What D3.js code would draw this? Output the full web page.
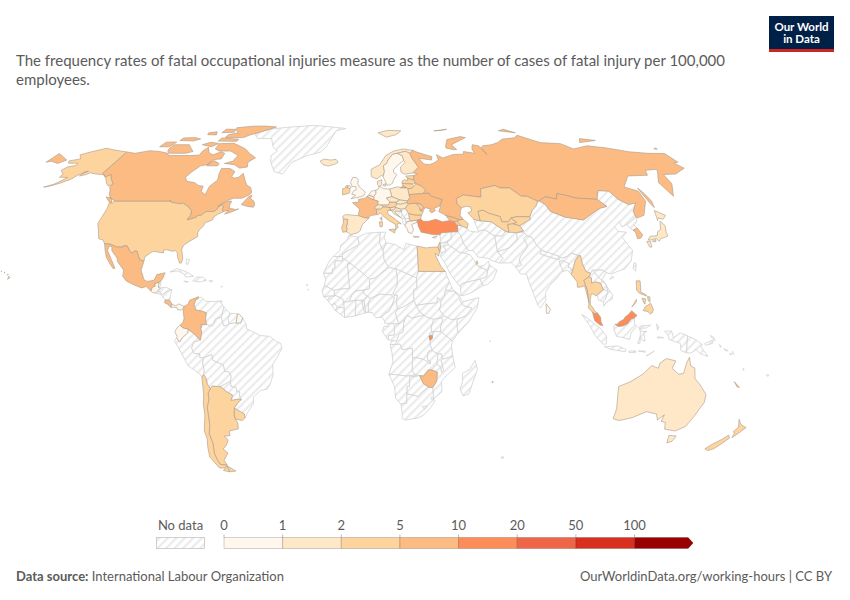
<!DOCTYPE html>
<html>
<head>
<meta charset="utf-8">
<script src="https://cdnjs.cloudflare.com/ajax/libs/d3/7.8.5/d3.min.js"></script>
<style>
  html, body { margin: 0; padding: 0; background: #fff; }
  svg { display: block; font-family: Lato, "Open Sans", sans-serif; }
</style>
</head>
<body>
<svg id="chart" width="850" height="600"></svg>
<script>
const titleLines = [
  'The frequency rates of fatal occupational injuries measure as the number of cases of fatal injury per 100,000',
  'employees.',
];
const sourceLabel = 'Data source:';
const sourceName = 'International Labour Organization';
const footerRight = 'OurWorldinData.org/working-hours | CC BY';

const legendTicks = [0, 1, 2, 5, 10, 20, 50, 100];
const binColors = ['#fff7ec', '#fee8c8', '#fdd49e', '#fdbb84', '#fc8d59', '#ef6548', '#d7301f', '#990000'];

// countries with a reported rate (read from the map colours, so estimates)
const countryNames = ['Canada', 'USA', 'Mexico', 'Guatemala', 'Costa Rica', 'Panama', 'Colombia', 'Ecuador',
  'French Guiana', 'Argentina', 'Chile', 'Uruguay', 'Iceland', 'Norway', 'Sweden', 'Finland', 'Denmark',
  'UK', 'Ireland', 'Germany', 'Netherlands', 'Belgium', 'France', 'Spain', 'Portugal', 'Italy', 'Switzerland',
  'Austria', 'Poland', 'Czechia', 'Slovakia', 'Hungary', 'Slovenia', 'Croatia', 'Estonia', 'Latvia', 'Lithuania',
  'Belarus', 'Ukraine', 'Moldova', 'Romania', 'Bulgaria', 'Greece', 'Russia', 'Turkey', 'Cyprus', 'Georgia',
  'Armenia', 'Azerbaijan', 'Kazakhstan', 'Uzbekistan', 'Kyrgyzstan', 'Tajikistan', 'Mongolia', 'Egypt', 'Israel',
  'Qatar', 'South Korea', 'Japan', 'Myanmar', 'Thailand', 'Malaysia', 'Philippines', 'Sri Lanka', 'Burundi',
  'Zimbabwe', 'Mauritius', 'Australia', 'New Zealand', 'New Caledonia'];
const countryRates = [5.6, 3.5, 8, 0.8, 8, 0.9, 7, 0.8,
  0.7, 3.6, 3.2, 3.5, 1.5, 1.5, 0.7, 1.5, 1.5,
  0.5, 2.5, 0.9, 0.5, 1.5, 6, 1.8, 3, 2.8, 1.3,
  2.2, 1.8, 1.5, 1.5, 1.7, 1.7, 1.8, 2.3, 3.5, 3.5,
  3, 6, 2, 3.8, 3.5, 0.9, 6.5, 12, 0.9, 6,
  3.6, 3.5, 4, 2.6, 4, 3, 6, 3.3, 3,
  4, 5.5, 1.6, 3.6, 4, 13, 4, 0.9, 12,
  6, 2, 1.5, 3, 7];

// simplified country outlines, "lon,lat" rings
const outlines = {
  'Canada': [
    '-141,69.6 -141,60.3 -139.5,59.7 -137.5,58.9 -135.5,59.7 -133.5,58 -130,55.9 -130.5,54.7 -129,53.5 -127.5,51.5 -125,50 -123,49.3 -122.8,49 -110,49 -95.2,49 -95.2,49.4 -94.6,48.7 -92,48.3 -89.6,48 -88.4,48.3 -84.8,46.9 -84.5,46.5 -83.5,46 -82.5,45.3 -82.1,43.6 -82.5,42.6 -83.1,42.1 -82.7,41.7 -79,42.8 -79,43.3 -76.8,43.6 -76.3,44.2 -75,45 -71.5,45 -70.8,45.4 -70,46.7 -69.2,47.45 -68.3,47.35 -67.8,47.1 -67.8,45.7 -67,44.9 -66,45.2 -64.5,45.5 -66,44 -63.5,44.6 -60,46 -61.5,45.7 -62.5,46 -64.5,46.2 -65,47.5 -64.5,49 -66.3,49.1 -69,48 -70.5,47 -69.5,48 -67,49.3 -64,50.2 -60,50.2 -57,51.5 -56,52.5 -57.5,54.5 -60,55.5 -62,57.5 -64.5,60.3 -66,58.7 -68.3,58.3 -70,59 -69.5,61 -73,62.3 -78,62.4 -77.5,60 -76.5,57.5 -79,55 -79.2,52 -79,51.5 -82,52.9 -82.3,55 -85,55.3 -88,56.5 -92.5,57 -94.5,58.7 -93,61 -90.5,63.5 -87,64 -85.8,66.2 -81.5,66.5 -81.7,69 -84.5,69.7 -88,68.3 -90,68.8 -92,69.8 -94.5,71.8 -96,70 -96,68.2 -101,68 -108,68 -114,68 -115.5,69 -121.5,69.8 -128,70.2 -135,69',
    '-90,76.5 -78,76.5 -75,78 -72,78.8 -65,81.2 -62,82.5 -70,83.1 -80,83 -90,82 -88,80.5 -85,79 -90,78',
    '-64,63 -68,62.5 -72,64 -78,64.5 -74,65.5 -73,68 -79,70 -86,70 -89.5,71 -90,73.5 -81,73.7 -77,72.7 -71,71 -67,69 -62,67 -65,65',
    '-105,69 -115,69 -117,70 -118,71.5 -117,73 -114,73 -108,73 -104,71 -101.5,69.8',
    '-119.5,72 -125,72 -124.5,74.2 -118,74.3 -118,73.3',
    '-117,75 -108,74.8 -105,75.8 -110,76.5 -117,76.3',
    '-92,74.7 -80,74.6 -80,75.7 -92,76.3',
    '-100,73 -93,72 -90.5,73.6 -96,74.2',
    '-87,63.5 -81,63.5 -81,64.5 -85,65.8 -87,64.5',
    '-96,79 -88,79.3 -89,81 -96,81',
    '-104,78 -98,77.9 -100,79.5 -105,79',
    '-59.3,47.7 -55.5,46.9 -53,46.7 -52.7,47.5 -53.5,49 -55.5,50 -55.6,51.5 -57,50.7',
    '-128.3,50.7 -125.5,50.4 -123.4,48.5 -125,48.7'],
  'USA': [
    '-122.8,49 -110,49 -95.2,49 -95.2,49.4 -94.6,48.7 -92,48.3 -89.6,48 -88.4,48.3 -84.8,46.9 -84.5,46.5 -83.5,46 -82.5,45.3 -82.1,43.6 -82.5,42.6 -83.1,42.1 -82.7,41.7 -79,42.8 -79,43.3 -76.8,43.6 -76.3,44.2 -75,45 -71.5,45 -70.8,45.4 -70,46.7 -69.2,47.45 -68.3,47.35 -67.8,47.1 -67.8,45.7 -67,44.9 -69,44 -70.7,43 -70.8,41.8 -72,41.3 -74,40.6 -74.2,39.5 -75.5,38 -76,37 -75.6,35.3 -77,34.5 -79,33.4 -81,32 -81.4,30.5 -80.1,26.8 -80.4,25.2 -81.2,25.2 -82.7,27.7 -83,29.1 -84.2,30 -85.5,29.7 -88,30.3 -89.5,30.2 -89.3,29.1 -90.5,29.2 -93.8,29.7 -95,29.2 -97.3,27.5 -97.2,25.95 -99.2,26.4 -100.3,28 -101.4,29.8 -102.7,29.7 -103.2,29 -104.5,29.6 -106.5,31.75 -108.2,31.78 -108.2,31.33 -111,31.33 -114.8,32.5 -117.1,32.53 -118.4,34 -120.6,34.5 -121.9,36.6 -122.5,37.8 -124.3,40.3 -124.1,43 -124,46.2 -124.7,48.4 -123,48.2',
    '-141,69.6 -141,60.3 -139.5,59.7 -137.5,58.9 -135.5,59.7 -133.5,58 -130,55.9 -131.5,55 -133.5,56 -136,57.8 -139.5,59.7 -144,60 -148,60.5 -149.5,59.7 -152,59.2 -151.8,60.8 -150,61.2 -153.5,59.4 -154.5,58 -158,56.3 -162,55 -164.5,54.6 -160.5,56 -157.5,58.6 -162,58.7 -162,60 -165.5,61.5 -164.5,63 -161,63.6 -161,64.6 -166.5,64.6 -168,65.6 -163,66.5 -166.5,68.3 -163,69.5 -156.5,71.3 -150,70.5',
    '-155.9,19 -155,19.7 -155.7,20.2', '-156.6,20.8 -156,20.8 -156.4,20.6', '-158.2,21.5 -157.7,21.4 -158,21.7', '-159.7,22 -159.3,22.1 -159.5,21.9'],
  'Mexico': ['-117.1,32.53 -114.8,32.5 -111,31.33 -108.2,31.33 -108.2,31.78 -106.5,31.75 -104.5,29.6 -103.2,29 -102.7,29.7 -101.4,29.8 -100.3,28 -99.2,26.4 -97.2,25.95 -97.8,22.5 -95.9,18.9 -94.5,18.2 -91.5,18.6 -90.5,20.8 -87,21.5 -87.6,19.5 -88.3,18.5 -89.15,17.9 -91,17.25 -90.5,16.4 -91.7,16 -92.2,14.5 -94.5,16.2 -96.5,15.7 -99.5,16.7 -103.5,18.3 -105.5,20.2 -105.5,22.5 -109,25.8 -109.5,27 -112.8,30 -113.2,31.3 -114.7,31.7 -114.7,30 -111.5,26 -109.5,23.2 -110.3,23.1 -112.2,25 -114.5,27.5 -115.8,30'],
  'Guatemala': ['-91,17.25 -89.15,17.9 -89.15,15.9 -88.2,15.7 -89.2,14.6 -90.1,13.75 -91.5,14 -92.2,14.5 -91.7,16 -90.5,16.4'],
  'Belize': ['-88.3,18.5 -89.15,17.9 -89.15,15.9 -88.3,16.5'],
  'Honduras': ['-89.2,14.6 -88.2,15.7 -86,16 -83.2,15 -84.7,14.7 -86,13.9 -87.3,13 -87.7,13.8'],
  'Nicaragua': ['-83.2,15 -83.7,11 -85.7,11.1 -87.6,13 -87.3,13 -86,13.9 -84.7,14.7'],
  'El Salvador': ['-90.1,13.75 -89.2,14.6 -87.7,13.8 -87.8,13.2'],
  'Costa Rica': ['-85.7,11.1 -83.7,11 -82.6,9.5 -83,8.3 -84.7,9.6 -85.8,10'],
  'Panama': ['-82.6,9.5 -81,8.9 -79.5,9.6 -77.3,8.6 -77.9,7.3 -80,7.3 -80.4,8.3 -83,8.3'],
  'Cuba': ['-84.9,21.8 -82,23.1 -77,21.6 -74.2,20.2 -77.7,19.8 -78.5,21 -81.5,22.2'],
  'Hispaniola': ['-74.4,18.4 -72.8,19.9 -70,19.8 -68.4,18.6 -71,18 -72,18.1'],
  'Jamaica': ['-78.3,18.3 -76.3,18.1 -77,17.8'],
  'Puerto Rico': ['-67.2,18.5 -65.6,18.4 -66.2,17.9'],
  'Bahamas': ['-78.5,26.7 -77,26.5 -77.6,24.5 -78.2,25'],
  'Trinidad': ['-61.9,10.7 -60.9,10.8 -61,10.1'],
  'Guadeloupe': ['-61.7,16.3 -61.2,16.3 -61.5,15.9'],
  'Colombia': ['-77.3,8.6 -75.6,9.5 -75,11 -72.2,12 -71.3,12.4 -71.3,11.7 -72.5,11 -73,9.2 -72,7.2 -70,7 -67.5,6.2 -67.8,3.8 -67.3,1.7 -69.8,1.7 -69.4,0.7 -70,0.6 -69.4,-1 -70,-4.2 -70.7,-3.8 -72,-2.4 -73.5,-1.3 -75.2,-0.1 -77.5,0.4 -78.8,1.4 -77.5,2.6 -77.1,4 -77.5,6.5'],
  'Ecuador': ['-75.2,-0.1 -77.5,0.4 -78.8,1.4 -80,0.5 -81,-1 -80,-3 -80.3,-3.4 -79,-5 -78,-3.5 -75.5,-1.5'],
  'Venezuela': ['-71.3,11.7 -72.5,11 -73,9.2 -72,7.2 -70,7 -67.5,6.2 -67.8,3.8 -67.3,1.7 -65,1 -64,2 -63.4,3.9 -61,4.5 -60.7,5.2 -60,8.5 -62,10.7 -64,10.5 -68,10.6 -70,12.2'],
  'Guyana': ['-60.7,5.2 -61,4.5 -60,1.3 -58.8,1.2 -57.5,2 -58,4 -57.2,6 -58.5,7 -60,8.5'],
  'Suriname': ['-57.2,6 -58,4 -57.5,2 -54.5,2.3 -54,5.8'],
  'French Guiana': ['-54,5.8 -54.5,2.3 -52.5,2.3 -51.7,4.2 -53,5.5'],
  'Brazil': ['-61,4.5 -60,1.3 -58.8,1.2 -57.5,2 -54.5,2.3 -52.5,2.3 -51.7,4.2 -50,1.5 -50,0 -48,-0.7 -44,-2.5 -40,-2.8 -37,-4.8 -35.2,-5.5 -34.8,-7.5 -37,-11 -39,-13.5 -39,-17.5 -40.5,-21 -42,-23 -45,-23.5 -48.5,-26 -48.7,-28.5 -52,-32 -53.5,-34 -53.5,-32.5 -57.6,-30.2 -55.8,-28.3 -54,-27 -54.6,-25.6 -54.3,-24 -55.5,-24 -55.8,-22.3 -58,-22 -58,-20 -57.5,-18 -58.4,-16.3 -60.2,-16.3 -60.5,-13.8 -65,-12 -65.3,-9.8 -68.9,-11 -70.6,-11 -70.6,-9.5 -73,-9.4 -74,-7.3 -73,-5 -70,-4.2 -69.4,-1 -70,0.6 -69.4,0.7 -69.8,1.7 -67.3,1.7 -65,1 -64,2 -63.4,3.9'],
  'Peru': ['-80.3,-3.4 -81.3,-4.5 -79.7,-7 -77,-12 -76,-14 -71,-17.3 -70.4,-18.3 -69.5,-17.5 -69,-16 -69.5,-13 -68.9,-11 -70.6,-11 -70.6,-9.5 -73,-9.4 -74,-7.3 -73,-5 -70,-4.2 -70.7,-3.8 -72,-2.4 -73.5,-1.3 -75.2,-0.1 -75.5,-1.5 -78,-3.5 -79,-5'],
  'Bolivia': ['-69.5,-17.5 -69,-16 -69.5,-13 -68.9,-11 -65.3,-9.8 -65,-12 -60.5,-13.8 -60.2,-16.3 -58.4,-16.3 -57.5,-18 -58,-20 -62.6,-22 -64,-22 -66.2,-21.8 -67.2,-22.8 -68.3,-21 -68.5,-19'],
  'Paraguay': ['-58,-20 -58,-22 -55.8,-22.3 -55.5,-24 -54.3,-24 -54.6,-25.6 -54,-27 -55,-26.8 -58.6,-27.3 -57.6,-25.3 -60,-24 -62.6,-22'],
  'Uruguay': ['-57.6,-30.2 -53.5,-32.5 -53.5,-34 -55,-35 -58,-34.5 -58.3,-33'],
  'Argentina': [
    '-66.2,-21.8 -64,-22 -62.6,-22 -60,-24 -57.6,-25.3 -58.6,-27.3 -55,-26.8 -54,-27 -55.8,-28.3 -57.6,-30.2 -58.3,-33 -58,-34.5 -57.2,-36 -57.6,-38.2 -62,-39 -62.3,-40.8 -65,-41 -63.7,-42.5 -65.5,-44.7 -67.5,-46 -65.8,-47.5 -69,-50.5 -68.4,-52.4 -71.8,-52 -72.3,-50 -72.5,-47.5 -71.5,-44 -71.8,-40 -70.5,-37 -70,-33 -69.8,-30 -68.5,-27 -68.4,-24.5 -67.2,-22.8',
    '-68.6,-52.7 -65.2,-54.7 -68.6,-55'],
  'Chile': [
    '-70.4,-18.3 -69.5,-17.5 -68.5,-19 -68.3,-21 -67.2,-22.8 -68.4,-24.5 -68.5,-27 -69.8,-30 -70,-33 -70.5,-37 -71.8,-40 -71.5,-44 -72.5,-47.5 -72.3,-50 -71.8,-52 -68.4,-52.4 -70.5,-53.5 -73,-53.5 -75.5,-49 -74.5,-45 -73.5,-42 -73.7,-39 -71.6,-33 -71.3,-29 -70.4,-25',
    '-68.6,-52.7 -68.6,-55 -71.5,-54.5 -70,-53.5'],
  'Greenland': ['-73,78.5 -65,81 -55,82.2 -35,83.5 -22,82.5 -11.5,81.5 -18,80 -20,76 -22,72 -25,69.5 -32,68 -40,65 -43,60 -48,61 -52,65 -53.5,68 -51,70 -55,72 -59,76 -68,76'],
  'Iceland': ['-24,65.5 -22,64 -19,63.4 -15,64.3 -13.6,65 -15,66.3 -18,66 -22,66.4'],
  'Norway': ['5,59 5,62 10,64 14,68 19,70 25,71 31,70.3 28.5,69 26,69.9 21,69 18,68.5 15,66 14,64.5 12,63.5 12.3,61 11.3,59 10.5,59.5 8,58 5.5,58.7', '11,79 16,76.7 23,78 27,80 18,80.3'],
  'Sweden': ['11.3,59 12.3,61 12,63.5 14,64.5 15,66 18,68.5 21,69 23.7,67.9 24,65.8 21.5,64.5 17.5,62 17.2,60.7 18.8,59.8 16.7,57.5 16,56.2 14.3,55.5 13,55.4'],
  'Finland': ['21,69 26,69.9 28.5,69 29,66.9 31.5,62.9 27.8,60.5 23,59.9 21.3,60.8 21.5,63 24.5,64.9 24,65.8 23.7,67.9'],
  'Denmark': ['8.1,57 10.5,57.7 10.2,55.8 9.5,54.9 8.7,54.9 8.1,55.6', '11,55.7 12.5,56 12.2,55 11,55.2'],
  'Estonia': ['23.5,59.2 28,59.4 27.4,57.6 25,58 24.2,58.3'],
  'Latvia': ['21,57 22.6,57.7 24.2,57.2 24.2,58.3 25,58 27.4,57.6 28.2,56.1 26,55.9 21,56.1'],
  'Lithuania': ['21,56.1 26,55.9 26.8,55 25.8,54.2 23.5,54 22.8,54.4 21.3,55.2'],
  'Belarus': ['23.5,54 25.8,54.2 26.8,55 28.2,56.1 31,55 32.7,53.4 31,52.1 23.7,51.6'],
  'Poland': ['14.2,53.9 18.5,54.8 19.8,54.4 22.8,54.4 23.5,54 23.7,51.6 24,50.5 22.6,49.1 18.8,49.5 15,50.8 14.7,52'],
  'Germany': ['8.7,54.9 9.5,54.9 11,54 14.2,53.9 14.7,52 15,50.8 12.2,50.3 13.8,48.7 13,47.5 10,47.5 7.6,47.6 8,49 5.8,49.6 6,50.5 5.8,50.8 6,51 7,52.2 7,53.4 8.7,54'],
  'Netherlands': ['7,53.4 7,52.2 6,51 5.8,50.8 3.4,51.4 4.7,53'],
  'Belgium': ['3.4,51.4 5.8,50.8 6,50.5 5.8,49.6 4.2,50 2.6,51'],
  'France': ['2.6,51 4.2,50 5.8,49.6 8,49 7.6,47.6 6,46.3 7,45.9 7,44.2 7.5,43.8 4,43.4 3.2,42.4 1.5,42.5 -1.8,43.4 -1.2,46 -4.7,48.4 -1.6,48.7 -1.8,49.7 1.5,50.2', '8.6,42.3 9.5,43 9.4,41.5'],
  'Spain': ['-1.8,43.4 1.5,42.5 3.2,42.4 0.3,40 -0.3,39 -0.7,37.7 -2,36.8 -5.3,36 -6.4,36.9 -7.4,37.2 -7,38.2 -7.4,39.5 -7,39.7 -6.9,41 -6.8,41.9 -8.2,42 -8.9,42 -9.2,43.2 -7.8,43.8'],
  'Portugal': ['-8.9,42 -8.2,42 -6.8,41.9 -6.9,41 -7,39.7 -7.4,39.5 -7,38.2 -7.4,37.2 -8.9,37 -9.5,38.7 -8.8,40.5'],
  'UK': ['-5,58.6 -3,58.6 -2,57.6 -2.2,56 -1.3,54.6 0.3,53.6 1.7,52.6 1,51.3 -1,50.7 -5.5,50 -3.2,51.4 -5.2,51.8 -4.2,53.3 -3,53.5 -3.2,54.9 -5,54.8 -6,56.5', '-6.2,55.2 -5.5,54.5 -6.2,54.1 -7.8,54.4 -7.2,55.2'],
  'Ireland': ['-7.2,55.2 -7.8,54.4 -6.2,54.1 -6.1,52.8 -6.5,52.2 -9.8,51.5 -10,54 -8.5,54.3 -8.3,55.2'],
  'Switzerland': ['6,46.3 7.6,47.6 9.6,47.5 10.4,46.8 9,45.9 7,45.9'],
  'Austria': ['9.6,47.5 10,47.5 13,47.5 13.8,48.7 16.9,48.7 17,47.7 16,46.7 13.7,46.5 10.4,46.8'],
  'Czechia': ['12.2,50.3 15,50.8 18.8,49.5 16.9,48.7 13.8,48.7'],
  'Slovakia': ['16.9,48.7 18.8,49.5 22.6,49.1 22.1,48.4 18.8,47.8 17,48'],
  'Hungary': ['17,47.7 17,48 18.8,47.8 22.1,48.4 22.9,48 21,46.2 18.8,45.9 16.5,46.5 16,46.7'],
  'Slovenia': ['13.7,46.5 16,46.7 16.5,46.5 15.3,45.5 13.6,45.5'],
  'Croatia': ['13.6,45.5 15.3,45.5 16.5,46.5 18.8,45.9 19,45 16,45.2 16,44.6 18.5,42.6 15.2,44.2 14.5,45.2'],
  'Bosnia': ['16,45.2 19,45 19.3,43.6 18.5,42.6 16,44.6'],
  'Serbia': ['19,45 18.8,45.9 21,46.2 22.5,44.2 22.5,42.3 20.5,42.2 20.3,42.8 19.3,43.6'],
  'Montenegro': ['18.5,42.6 19.3,43.6 20.3,42.8 19.3,41.9'],
  'Albania': ['19.3,41.9 20.3,42.8 20.7,41 20.9,40.4 20,39.7 19.3,40.5'],
  'Macedonia': ['20.7,41 20.5,42.2 22.5,42.3 23,41.3 20.9,40.9'],
  'Greece': ['20,39.7 20.9,40.4 20.9,40.9 23,41.3 26.3,41.7 26,40.8 23.3,40 24,38 23,36.5 21.5,36.9 21,38.3', '23.6,35.5 26.3,35.2 24,35'],
  'Bulgaria': ['22.5,44.2 25,43.7 28.5,43.6 27.8,42 26.3,41.7 23,41.3 22.5,42.3'],
  'Romania': ['21,46.2 22.9,48 26.6,48.3 28.2,46.5 28.2,45.4 29.6,45 28.5,43.6 25,43.7 22.5,44.2'],
  'Moldova': ['26.6,48.3 29,47.9 30,46.4 28.2,45.4 28.2,46.5'],
  'Ukraine': ['23.7,51.6 31,52.1 34,52.3 34.5,51.2 37.5,50.3 40,49.6 38,47.1 35,46.2 35.5,45.3 33.5,44.4 32.5,45.4 33.5,46 30.7,46.5 29.6,45.3 28.2,45.4 30,46.4 29,47.9 26.6,48.3 22.9,48 22.1,48.4 22.6,49.1 24,50.5'],
  'Italy': ['7.5,43.8 7,44.2 7,45.9 9,45.9 10.4,46.8 13.7,46.5 13.6,45.5 12.3,45.3 12.5,44 16,41.9 18.5,40.2 17,40.5 16.5,39.6 17,39 15.8,38 15.7,40 12.2,41.8 10.5,43 8.8,44.4', '12.5,38 15.6,38.2 15.1,36.7', '8.2,41 9.7,41 9.5,39.2 8.5,39'],
  'Turkey': ['26.3,41.7 28,42 29,41.2 31.5,41.2 35,42 38,41 41.5,41.5 43.5,41 44.8,39.7 44.4,37.2 42.3,37.2 36.7,36.8 36,36 32.5,36.1 30.5,36.5 27.4,37 26.3,39.5 26.3,40.3 26,40.8'],
  'Cyprus': ['32.3,35 34.5,35.6 33.6,34.7'],
  'Georgia': ['40,43.5 43.5,42.8 46.5,41.8 45,41.2 43.5,41 41.5,41.5'],
  'Armenia': ['43.5,41 45,41.2 46.5,39.5 44.8,39.7'],
  'Azerbaijan': ['45,41.2 46.5,41.8 48,42 50,40.3 49,38.5 46.5,39.5'],
  'Russia': [
    '28,59.4 30,60 27.8,60.5 31.5,62.9 29,66.9 28.5,69 31,70.3 33,69.5 41,67.5 40,66 35,66.6 33,66.6 35,64.3 38,64 40.5,64.6 44,66 44,68.4 47,66.9 54,68.5 60,68.6 61,69.8 67,69 67,71 69,73 72.5,72.5 74,68.5 73,71.5 75,72.5 81,73 86,74 91,75.7 100,76.4 104,77.7 113,74 125,73.5 129,71 140,72.5 150,71.5 160,69.7 170,69 179.99,68.9 179.99,65 177,64.7 179,62.5 170,60 163,59.8 162,56 156.5,51 155.7,56.5 161,60.5 163,62 156,61.6 154,59.5 143,59.2 135.5,54.7 141,53 140.5,49 135,43.5 131,42.5 130.7,43 131,45 135,48.4 131,47.7 127.5,49.8 126,53 120.5,53.3 117,49.7 113,50 107,50.2 102,51.5 98.5,52 97,49.8 92,50.8 87.8,49.2 87,49 83,51 80,51 76,54.3 71,54.3 69,55.3 61,54 59.5,50.6 51,51.5 47,50 46.8,48 48.5,46.5 47.5,45 47,43.5 48,42 46.5,41.8 43.5,42.8 40,43.5 37,45 38.5,47 38,47.1 40,49.6 37.5,50.3 34.5,51.2 34,52.3 31,52.1 32.7,53.4 31,55 28.2,56.1 27.4,57.6',
    '-179.99,68.9 -175,67.5 -170,66 -172.5,64.5 -178,65.5 -179.99,65',
    '142,54.3 143,52 143.5,49 142.5,46.5 142,48 141.8,52',
    '19.8,54.4 22.8,54.4 21.3,55.2',
    '51.5,71.5 55,70.7 57.5,70.7 56,73 68,76.5 65,77 55,75.5 52,72.5',
    '50,80 60,81 55,80.2', '95,80 105,79 100,81', '138,74 150,75 142,76', '178,71 179.9,71.5 179.9,70.9'],
  'Kazakhstan': ['47,50 51,51.5 59.5,50.6 61,54 69,55.3 71,54.3 76,54.3 80,51 83,51 87,49 85,47 82.5,45.5 80,42.9 74,43 71,42.5 69,41 66,41 66,43 61,44.3 58.5,45.5 56,45 56,41.3 53,42 51,44.5 53,45.2 53,46.8 51,47 48.5,46.5 46.8,48'],
  'Uzbekistan': ['56,41.3 56,45 58.5,45.5 61,44.3 66,43 66,41 69,41 71,42.5 73,40.8 71,40.2 68.5,40 68,37 66.5,37.4 64,39 61,41 57.5,41.3'],
  'Kyrgyzstan': ['71,42.5 74,43 80,42.9 80,42 73.8,39.5 71,40.2 73,40.8'],
  'Tajikistan': ['68.5,40 71,40.2 73.8,39.5 75,37.5 71.5,36.8 68,37'],
  'Turkmenistan': ['53,42 56,41.3 57.5,41.3 61,41 64,39 66.5,37.4 64.5,35.5 61,35.6 57,38 54,37.3 53.5,39.5'],
  'Mongolia': ['87.8,49.2 92,50.8 97,49.8 98.5,52 102,51.5 107,50.2 113,50 117,49.7 119.8,47 116,46.3 112,44.8 105,41.7 97,42.8 91,45 90,47.8'],
  'China': ['73.8,39.5 80,42 80,42.9 82.5,45.5 85,47 87,49 87.8,49.2 90,47.8 91,45 97,42.8 105,41.7 112,44.8 116,46.3 119.8,47 117,49.7 120.5,53.3 126,53 127.5,49.8 131,47.7 135,48.4 131,45 130.7,43 128,41.5 124.4,40 121.5,39 121.5,41 118,39 119,37.3 122.5,37 119.5,35 121,32 122,30 120,26 116.5,23 113,22 110,21 108,21.6 106.5,22.5 102,22.5 101,21.3 99,22 98,25 98,28 94,29 92,27.8 89.5,27 88.2,27.8 84,29.2 81,30 79,32.5 78,35 76,35.7 74.5,37 75,37.5', '109,19 111,19.7 110,20.1'],
  'Taiwan': ['120.2,23 121,22 122,25 121,25.3'],
  'North Korea': ['124.4,40 128,41.5 130.7,43 129.7,41 127.5,39.8 128.4,38.6 126,37.8 125,38.5'],
  'South Korea': ['126,37.8 128.4,38.6 129.4,36 128,34.8 126.3,34.5 126.7,37'],
  'Japan': ['130.9,34 132.5,35.4 136,35.7 137,37.2 139,38 140,40 141,41.3 142,39.5 140.9,37 140.8,35.6 139,35 137,34.6 135.7,33.5 135,34.6 132,34', '140,41.5 141.5,45.4 145.3,43.5 143,42 141,42.5', '130,33.5 131.7,33.5 131.3,31.3 130.3,31.3', '132.5,33.5 134.5,34.2 134,33.3'],
  'Myanmar': ['92.3,21 93,22 94,24 95,26 97,28 98,28 98,25 99,22 101,21.3 100,20 97.5,18.5 98.5,15 98.7,10 98,14 97.5,16.5 95.5,16 94.3,16 94.5,18'],
  'Thailand': ['97.5,18.5 100,20 101,19.5 100.7,17.5 102.5,18 104.7,17.5 105.5,15 102.5,13 102,12.6 100.9,13.4 100,13.3 99.3,11 99.3,9.3 100.4,8 101,6.8 102,6.2 101,5.7 100,6.4 98.3,8 98.7,10 98.5,15'],
  'Laos': ['101,21.3 102,22.5 104,20 107,17 107.5,14.5 105.5,15 104.7,17.5 102.5,18 100.7,17.5 101,19.5 100,20'],
  'Vietnam': ['102,22.5 106.5,22.5 108,21.6 105.7,19 107,16.7 109.3,13 109,11.5 106.7,10.4 105,8.7 105,10.4 106,11.5 107.5,14.5 107,17 104,20'],
  'Cambodia': ['102.5,13 105.5,15 107.5,14.5 106,11.5 105,10.4 103,11'],
  'Malaysia': ['100,6.4 101,5.7 102,6.2 103.4,4.5 103.5,2.7 104.3,1.3 103,1.5 100.8,3.2 100.2,5.4', '109.6,1.8 111,1 113,1.2 115,2 116.5,3.8 118,4.2 119.2,5.2 117,7 115.5,5.5 114,4.6 113.5,3.7 111.5,2.8 110.5,1.8'],
  'Indonesia': [
    '109,1 109.6,1.8 111,1 113,1.2 115,2 116.5,3.8 118,4.2 118,2 119,1 116.5,-1.5 116,-4 113,-3.3 110.2,-2.8 109,0',
    '95.3,5.6 98,4 100.5,2 103.5,0 106,-3 105.8,-5.8 104.5,-5.8 101,-2.5 98.8,1',
    '105.2,-6.8 108.5,-6.6 111,-6.5 114.5,-7.8 114.5,-8.7 108,-7.8',
    '116,-8.4 119,-8.4 119,-8.9 116,-9', '120,-8.4 123,-8.4 123,-8.9', '123.5,-10.3 127,-8.4 125,-9.7',
    '119.5,-5.5 120.5,-3 120.5,-1 119.8,0.7 121,1.2 125,1.5 123,0.4 120.6,0.3 121,-1 123.3,-0.9 122,-1.8 122.7,-4.5 121.5,-4.5 120.5,-2.8 120.5,-5.5',
    '127.5,2 128.5,1 127.9,-0.5', '128,-3 130.7,-3.3 128,-3.5',
    '131,-0.8 134,-0.8 135,-3.3 137.8,-1.5 141,-2.6 141,-9.1 138.5,-8.3 138,-5.5 133,-4 132.8,-2.8'],
  'Papua New Guinea': ['141,-2.6 145,-4.3 147.5,-6 147,-6.8 150.5,-10.5 147,-9.5 145,-7.8 143,-9.2 141,-9.1', '148.5,-5.6 152,-4.2 152,-5.5 149,-6.2', '150.8,-2.5 153,-4.5 152.3,-3.2'],
  'Solomon Islands': ['155,-6 156,-6.7 155.5,-7', '157,-7.5 159,-8.3 158,-8.4', '159.8,-9.3 160.8,-9.7 160,-9.9', '161,-8.5 161.5,-9.7 160.9,-9'],
  'Vanuatu': ['166.7,-15 167.2,-15.5 166.8,-15.8'],
  'Fiji': ['177.3,-17.5 178.6,-17.6 178.3,-18.2'],
  'Philippines': ['120.5,18.4 122.2,18.4 122,16 121.7,14.2 124,13 124,12.6 121,13.7 120,14.9 120.2,16.2', '122,7 123,8.5 125.5,9.8 126.5,7.5 126,6.3 125,5.7 124,6.7', '122,11.8 123.5,11.5 123,9.5 122.5,10', '124.5,12.5 125.5,12.2 125.2,10.2 124.5,11', '117.2,8.4 119.5,11.3 119.2,10.2'],
  'Sri Lanka': ['80,9.7 81.8,7.5 81,6 80,6'],
  'India': ['68.2,23.7 70,21 72.7,21 73,19 74.5,14.5 76.5,9 77.5,8 80,11 80.2,14 82.3,16.7 86.5,20 88,21.7 89,22 88.2,24.5 88,26 89.8,26 92,25 91.5,23.5 92.3,23.5 93,22 94,24 95,26 97,28 94,29 92,27.8 89.5,27 88.2,27.8 88,26.5 84,27.5 80,28.8 81,30 79,32.5 78,35 76,35.7 74,34.7 75,32.3 74.5,31 71,27.8 70,26 71,24.5'],
  'Nepal': ['80,28.8 84,27.5 88,26.5 88.2,27.8 84,29.2 81,30'],
  'Bangladesh': ['88.2,24.5 89,22 91,22.5 92.3,21 93,22 92.3,23.5 91.5,23.5 92,25 89.8,26 88,26'],
  'Pakistan': ['61,25.2 66.5,25.3 68.2,23.7 71,24.5 70,26 71,27.8 74.5,31 75,32.3 74,34.7 76,35.7 74.5,37 71.5,36.8 71,34 69.5,33 66.5,31 61,29.5 63,27'],
  'Afghanistan': ['61,29.5 66.5,31 69.5,33 71,34 71.5,36.8 75,37.5 71.5,38 68,37 66.5,37.4 64.5,35.5 61,35.6'],
  'Iran': ['44.4,37.2 44.8,39.7 46.5,39.5 49,38.5 50,37.4 54,37 54,37.3 57,38 61,35.6 61,29.5 63,27 61,25.2 57,26.5 56.5,27 52,27.5 50,30 48,30 46,33 45.5,35.5'],
  'Iraq': ['42.3,37.2 44.4,37.2 45.5,35.5 46,33 48,30 46,29 44,29.2 39.2,32.2 38.8,33.4 41,34.5 41,36.6'],
  'Syria': ['36,36 36.7,36.8 42.3,37.2 41,36.6 41,34.5 38.8,33.4 36,32.7 35.9,34.6'],
  'Israel': ['34.3,31.3 35.5,33.2 35.6,31.5 35,29.5'],
  'Jordan': ['35,29.5 35.6,31.5 35.6,33 36,32.7 38.8,33.4 39.2,32.2 37,31.5 38,30 36,29.2'],
  'Saudi Arabia': ['36,29.2 38,30 37,31.5 39.2,32.2 44,29.2 46,29 48.5,28.4 50,26.5 50.5,25 51.5,24 55,22.7 55.5,22 55,20 52,19 49,18.5 44,17.4 43,16.7 42.5,16.7 39,21 37,25 35,28'],
  'Yemen': ['43,16.7 44,17.4 49,18.5 52,19 53,16.6 48,14 45,13 43.3,12.7'],
  'Oman': ['52,19 55,20 55.5,22 56.5,24.5 59.8,22.5 57.8,19 55,17 53,16.6'],
  'UAE': ['51.5,24 54,24.2 56.4,26 56.5,24.5 55.5,22 55,22.7'],
  'Qatar': ['51,24.6 51.6,25 51.3,26.1 50.8,25.5'],
  'Morocco': ['-6,35.8 -2,35.1 -1.3,32.8 -2,32 -5,30.5 -8.7,28.7 -8.7,27.7 -13,27.7 -10,30 -9.7,32 -6.9,34'],
  'Western Sahara': ['-13,27.7 -8.7,27.7 -8.7,26 -12,26 -12,23.4 -13,23 -13,21.3 -17,21.3 -16,23.5 -14.5,26'],
  'Algeria': ['-2,35.1 2,36.6 8.5,37 8,33 9.5,30 9.9,26.5 11.9,23.5 5.7,19.5 3.3,19 1.2,20.7 -5,25 -8.7,27.2 -8.7,28.7 -5,30.5 -2,32 -1.3,32.8'],
  'Tunisia': ['8.5,37 11,37 10.2,35 11,33 9.5,30 8,33'],
  'Libya': ['11,33 15,32.3 19,30.3 20,32.7 25,31.7 25,22 24,19.5 15,23 11.9,23.5 9.9,26.5 9.5,30'],
  'Egypt': ['25,31.7 29,31 32,31.3 34.3,31.3 35,29.5 34.2,27.8 33,29 33,28 35,24 36.9,22 25,22'],
  'Sudan': ['24,19.5 25,22 36.9,22 37.5,20 38.5,18 36.5,15 36,12.5 34.5,10.7 33,12 32.5,10 27,9.5 23.5,9 22.5,11 22.5,15 24,15.7'],
  'South Sudan': ['23.5,9 27,9.5 32.5,10 33,12 34.5,10.7 34,8.5 33.5,7.5 35.5,5 34,4.2 31,3.7 28,4.5 27,5.2 25,6.5'],
  'Ethiopia': ['36.5,15 38.5,14.5 40,14.5 42.5,12.5 43,11.5 42.5,11 44,9 47.8,8 45,5 42,4 39,3.5 35.5,5 33.5,7.5 34,8.5 34.5,10.7 36,12.5'],
  'Eritrea': ['36.5,15 38.5,18 39.7,15 43,12.8 42.5,12.5 40,14.5 38.5,14.5'],
  'Somalia': ['43,11.5 44,10.5 51,12 50,8 46,2.5 41.5,-1.7 41,3 42,4 45,5 47.8,8 44,9 42.5,11'],
  'Kenya': ['41.5,-1.7 39.2,-4.7 37.7,-3.5 34,-1 34,1 35,3.7 34,4.2 35.5,5 39,3.5 42,4 41,3'],
  'Uganda': ['30,-1 34,-1 34,1 35,3.7 34,4.2 31,3.7 30,1'],
  'Tanzania': ['30,-1 34,-1 37.7,-3.5 39.2,-4.7 38.8,-6.5 39.5,-10.5 35,-11.6 34.5,-9.5 33,-9.5 31,-8.6 30.5,-8.2 29.5,-6 29.5,-4.4 30.5,-3.5 30.5,-2.4 30.9,-1.4'],
  'Rwanda': ['29,-2.7 30.5,-2.4 30.9,-1.4 30,-1 29.3,-1.6'],
  'Burundi': ['29,-2.7 30.5,-2.4 30.5,-3.5 29.5,-4.4'],
  'DR Congo': ['12.2,-6 13,-4.5 15,-4.5 16,-2 17.8,-1 18,2 18.5,3.5 18.6,4.2 19.5,5.2 22,4.2 25,5 27,5.2 28,4.5 31,3.7 30,1 30,-1 29.3,-1.6 29,-2.7 29.5,-4.4 29.5,-6 30.5,-8.2 28.9,-8.5 28.4,-10 28.7,-12 29.8,-12.2 29.8,-13.4 28.4,-12.5 27,-11.7 24,-11 22,-11 21.8,-7.3 17.5,-8 16.5,-5.8'],
  'Congo': ['11.2,-4 13,-4.5 15,-4.5 16,-2 17.8,-1 18,2 18.5,3.5 16,2 14,1.3 14,-2.2 11.5,-2.5'],
  'Gabon': ['9.5,1 11.3,1 11.3,2.2 13.3,2.2 14,1.3 14,-2.2 11.5,-2.5 11.2,-4 8.8,-1'],
  'Cameroon': ['9.8,2.2 11.3,2.2 13.3,2.2 16,2 15,4.5 14.5,6.2 15.5,7.5 15,10 15.5,13 14,13 14,11.5 13,9 11.8,6.8 10,6 8.6,4.5 9.8,3'],
  'Central African Republic': ['14.5,6.2 15,4.5 16,2 18.5,3.5 18.6,4.2 19.5,5.2 22,4.2 25,5 27,5.2 25,6.5 23.5,9 22.5,11 19,9 15.5,7.5'],
  'Chad': ['14,13 15.5,13 15,10 15.5,7.5 19,9 22.5,11 22.5,15 24,15.7 24,19.5 15,23 15.5,20 15.3,16.5 13.5,13.7'],
  'Niger': ['3.3,19 5.7,19.5 11.9,23.5 15,23 15.5,20 15.3,16.5 13.5,13.7 13,13 8,13.3 3.6,11.7 2.4,12.5 1,13.3 0.3,14.9 3.3,15.4'],
  'Nigeria': ['2.7,6.4 2.7,10 3.6,11.7 8,13.3 13,13 14,11.5 13,9 11.8,6.8 10,6 8.6,4.5 6,4.3 4.5,6.3'],
  'Benin': ['1.7,6.2 2.7,6.4 2.7,10 3.6,11.7 2.4,12.5 0.8,10.9'],
  'Togo': ['1.2,6.1 1.7,6.2 0.8,10.9 0,11 0.5,8'],
  'Ghana': ['-3,5 1.2,6.1 0.5,8 0,11 -2.8,11 -2.7,9.5'],
  'Burkina Faso': ['-5.5,10.5 -2.8,11 0,11 0.8,10.9 2.4,12.5 1,13.3 0.3,14.9 -3,14.5 -4.5,13'],
  'Ivory Coast': ['-7.5,4.4 -3,5 -2.7,9.5 -2.8,11 -5.5,10.5 -8,10.3 -7.8,7.8'],
  'Mali': ['-12.2,14.8 -12,13 -8.5,11.5 -8,10.3 -5.5,10.5 -4.5,13 -3,14.5 0.3,14.9 3.3,15.4 3.3,19 1.2,20.7 -5,25 -6.5,25 -5.5,15.5 -10,15.3'],
  'Mauritania': ['-16.5,16.6 -12.2,14.8 -10,15.3 -5.5,15.5 -6.5,25 -5,25 -8.7,27.2 -8.7,26 -12,26 -12,23.4 -13,23 -13,21.3 -17,21.3 -16,19'],
  'Senegal': ['-17.5,14.7 -16.5,16.6 -12.2,14.8 -12,12.5 -13.7,12.6 -16.7,12.4'],
  'Guinea Bissau': ['-16.7,12.4 -13.7,12.6 -15,11'],
  'Guinea': ['-15,11 -13.3,9.1 -12,9.9 -10.7,8.5 -8,8 -7.8,7.8 -8,10.3 -8.5,11.5 -12,13 -12,12.5 -13.7,12.6'],
  'Sierra Leone': ['-13.3,9.1 -11.5,7 -10.7,8.5 -12,9.9'],
  'Liberia': ['-11.5,7 -7.5,4.4 -7.8,7.8 -8,8 -10.7,8.5'],
  'Angola': ['12.2,-6 16.5,-5.8 17.5,-8 21.8,-7.3 22,-11 24,-11 22,-13 22,-16 23.4,-17.6 20,-18 14,-17.4 11.8,-17.3 13.5,-12.5 13,-9'],
  'Zambia': ['22,-11 24,-11 27,-11.7 28.4,-12.5 29.8,-13.4 29.8,-12.2 28.7,-12 28.4,-10 28.9,-8.5 30.5,-8.2 31,-8.6 33,-9.5 32.7,-13.5 30.4,-15.6 29,-15.7 27,-18 25.3,-17.8 23.4,-17.6 22,-16 22,-13'],
  'Malawi': ['33,-9.5 34.5,-9.5 35,-11.6 34.5,-12 35.8,-16 34.8,-16.5 34.3,-14.5 32.7,-13.5'],
  'Mozambique': ['35,-11.6 39.5,-10.5 40.7,-14.8 37,-17.8 35,-20 35.5,-24 32.9,-25.9 32,-26.8 31.3,-22.4 32.9,-20 33,-16.5 30.4,-15.6 32.7,-13.5 34.3,-14.5 34.8,-16.5 35.8,-16 34.5,-12'],
  'Zimbabwe': ['25.3,-17.8 27,-18 29,-15.7 30.4,-15.6 33,-16.5 32.9,-20 31.3,-22.4 29.4,-22.2 27,-20.8'],
  'Namibia': ['11.8,-17.3 14,-17.4 20,-18 23.4,-17.6 25.3,-17.8 23.4,-18.2 21,-18.3 21,-22 20,-22 20,-28.4 17.5,-28.7 15,-26.5 14.4,-22'],
  'Botswana': ['21,-18.3 23.4,-18.2 25.3,-17.8 27,-20.8 29.4,-22.2 26,-24.6 25,-25.8 22.8,-25.3 20,-24.8 20,-22 21,-22'],
  'South Africa': ['17.5,-28.7 20,-28.4 20,-24.8 22.8,-25.3 25,-25.8 26,-24.6 29.4,-22.2 31.3,-22.4 32,-26.8 32.8,-27.5 31,-30 28,-33 25.5,-34 20,-34.8 18.4,-34.2 18.2,-32'],
  'Lesotho': ['27,-29.6 29.4,-29.5 28.3,-30.6'],
  'Eswatini': ['31,-26 32,-26.5 31.5,-27.3 30.8,-26.5'],
  'Madagascar': ['49.3,-12 50.5,-15.5 47.5,-24.8 45,-25.6 43.5,-23 44.3,-20 44,-17 47,-15.5'],
  'Mauritius': ['57.4,-20 57.9,-20.2 57.5,-20.6'],
  'Seychelles': ['55.3,-4.5 55.7,-4.6 55.4,-4.9'],
  'Cape Verde': ['-24.5,16.9 -23.8,17 -24.1,16.5', '-23.7,15.2 -23.3,15.2 -23.5,14.8'],
  'Kerguelen': ['69,-49 70.5,-49.2 69.6,-49.7'],
  'Australia': ['113.5,-22 114,-26 115,-30.5 115,-34.3 118,-35 123.5,-33.9 129,-31.6 134,-32.5 135.5,-34.8 137.7,-32.8 137.5,-35.3 139.7,-35.7 141,-38.3 144,-38.7 146.3,-39 150,-37.3 151.5,-33.5 153.5,-28 153,-25 149,-21 146.5,-19 145.5,-15 143.5,-14 142.5,-10.8 141.6,-13 141,-17 139,-17.3 135.5,-15 136.8,-12.2 132.5,-11.3 130,-13 129.5,-15 126.5,-14 123.5,-17 122,-18 118,-20.3', '144.7,-40.7 148.3,-40.9 148,-43 146,-43.6 145.3,-42'],
  'New Zealand': ['172.7,-40.6 174.2,-41.7 172.7,-43.7 170.8,-45.9 168.5,-46.6 166.5,-45.9 168.4,-44 171,-42.3', '172.8,-34.5 174.5,-36 175.8,-36.8 178.5,-37.7 177,-39.5 175.2,-41.6 174.8,-39.9 173.8,-39.3 174.8,-37.5'],
  'New Caledonia': ['164,-20.1 167,-22.3 166,-22.2'],
};

// Robinson lookup table, every 5 degrees of latitude (d3 core has no Robinson)
const robinsonX = [1, 0.9986, 0.9954, 0.99, 0.9822, 0.973, 0.96, 0.9427, 0.9216, 0.8962, 0.8679, 0.835, 0.7986, 0.7597, 0.7186, 0.6732, 0.6213, 0.5722, 0.5322];
const robinsonY = [0, 0.062, 0.124, 0.186, 0.248, 0.31, 0.372, 0.434, 0.4958, 0.5571, 0.6176, 0.6769, 0.7346, 0.7903, 0.8435, 0.8936, 0.9394, 0.9761, 1];

function robinsonRaw(lambda, phi) {
  const deg = Math.min(Math.abs(phi) * 180 / Math.PI, 89.999) / 5;
  const i = Math.floor(deg);
  const t = deg - i;
  const px = robinsonX[i] + (robinsonX[i + 1] - robinsonX[i]) * t;
  const py = robinsonY[i] + (robinsonY[i + 1] - robinsonY[i]) * t;
  return [0.8487 * px * lambda, 1.3523 * py * Math.sign(phi)];
}

const svg = d3.select('#chart');
const grey = '#5b5b5b';

const pattern = svg.append('defs').append('pattern')
  .attr('id', 'nodata')
  .attr('patternUnits', 'userSpaceOnUse')
  .attr('width', 6)
  .attr('height', 6)
  .attr('patternTransform', 'rotate(45)');
pattern.append('rect').attr('width', 6).attr('height', 6).attr('fill', '#fff');
pattern.append('rect').attr('width', 2.2).attr('height', 6).attr('fill', '#ebebeb');

// precision 0: edges stay straight on screen instead of following great arcs
const projection = d3.geoProjection(robinsonRaw).scale(156).translate([362, 329]).precision(0);
const path = d3.geoPath(projection);

const color = d3.scaleThreshold()
  .domain(legendTicks.slice(1))
  .range(binColors);
const rateByName = new Map(countryNames.map((name, i) => [name, countryRates[i]]));

// d3 wants exterior rings clockwise, so flip the ones that are not
function toRing(text) {
  const ring = text.trim().split(/\s+/).map((p) => p.split(',').map(Number));
  if (d3.polygonArea(ring) < 0) ring.reverse();
  ring.push(ring[0]);
  return [ring];
}

const features = Object.keys(outlines).map((name) => ({
  type: 'Feature',
  properties: { name, rate: rateByName.get(name) },
  geometry: { type: 'MultiPolygon', coordinates: outlines[name].map(toRing) },
}));

const hasData = (d) => d.properties.rate !== undefined;

svg.append('g').selectAll('path')
  .data(features.filter((d) => !hasData(d)))
  .join('path')
  .attr('d', path)
  .attr('fill', 'url(#nodata)')
  .attr('stroke', '#d2d2d2')
  .attr('stroke-width', 0.8);

svg.append('g').selectAll('path')
  .data(features.filter(hasData))
  .join('path')
  .attr('d', path)
  .attr('fill', (d) => color(d.properties.rate))
  .attr('stroke', '#a89a8c')
  .attr('stroke-width', 0.6)
  .attr('stroke-linejoin', 'round');

// title
svg.append('g').selectAll('text')
  .data(titleLines)
  .join('text')
  .attr('x', 16)
  .attr('y', (d, i) => 66 + i * 19)
  .attr('font-size', 15)
  .attr('fill', grey)
  .text((d) => d);

// logo
const logo = svg.append('g');
logo.append('rect').attr('x', 769).attr('y', 16).attr('width', 65).attr('height', 36).attr('fill', '#002147');
logo.append('rect').attr('x', 769).attr('y', 49).attr('width', 65).attr('height', 3).attr('fill', '#ce261e');
logo.selectAll('text')
  .data(['Our World', 'in Data'])
  .join('text')
  .attr('x', 801.5)
  .attr('y', (d, i) => 30.5 + i * 12.5)
  .attr('text-anchor', 'middle')
  .attr('font-size', 11.5)
  .attr('font-weight', 700)
  .attr('fill', '#fff')
  .text((d) => d);

// legend
const legendX = d3.scalePoint().domain(legendTicks).range([224, 634.5]);
const binWidth = legendX.step();
const legend = svg.append('g');

legend.append('rect')
  .attr('x', 156.5).attr('y', 537.5).attr('width', 48).attr('height', 11)
  .attr('fill', 'url(#nodata)')
  .attr('stroke', '#c4c4c4')
  .attr('stroke-width', 0.8);
legend.append('text')
  .attr('x', 180.5).attr('y', 530)
  .attr('text-anchor', 'middle')
  .attr('font-size', 13)
  .attr('fill', grey)
  .text('No data');

legend.selectAll('path.bin')
  .data(legendTicks)
  .join('path')
  .attr('class', 'bin')
  .attr('d', (d, i) => {
    const x = legendX(d);
    if (i < legendTicks.length - 1) return `M${x},537.5h${binWidth}v11h${-binWidth}Z`;
    return `M${x},537.5h${binWidth - 5}l5,5.5l-5,5.5h${-(binWidth - 5)}Z`;
  })
  .attr('fill', (d) => color(d))
  .attr('stroke', '#000')
  .attr('stroke-opacity', 0.25)
  .attr('stroke-width', 0.7);

legend.selectAll('text.tick')
  .data(legendTicks)
  .join('text')
  .attr('class', 'tick')
  .attr('x', (d) => legendX(d))
  .attr('y', 530)
  .attr('text-anchor', 'middle')
  .attr('font-size', 13)
  .attr('fill', grey)
  .text((d) => d);

legend.selectAll('line.tick')
  .data(legendTicks)
  .join('line')
  .attr('class', 'tick')
  .attr('x1', (d) => legendX(d))
  .attr('x2', (d) => legendX(d))
  .attr('y1', 534.5)
  .attr('y2', 537.5)
  .attr('stroke', '#999')
  .attr('stroke-width', 0.7);

// footer
const source = svg.append('text')
  .attr('x', 16)
  .attr('y', 581)
  .attr('font-size', 13)
  .attr('fill', grey);
source.append('tspan').attr('font-weight', 700).text(sourceLabel);
source.append('tspan').text(` ${sourceName}`);

svg.append('text')
  .attr('x', 832)
  .attr('y', 581)
  .attr('text-anchor', 'end')
  .attr('font-size', 13)
  .attr('fill', grey)
  .text(footerRight);
</script>
</body>
</html>
